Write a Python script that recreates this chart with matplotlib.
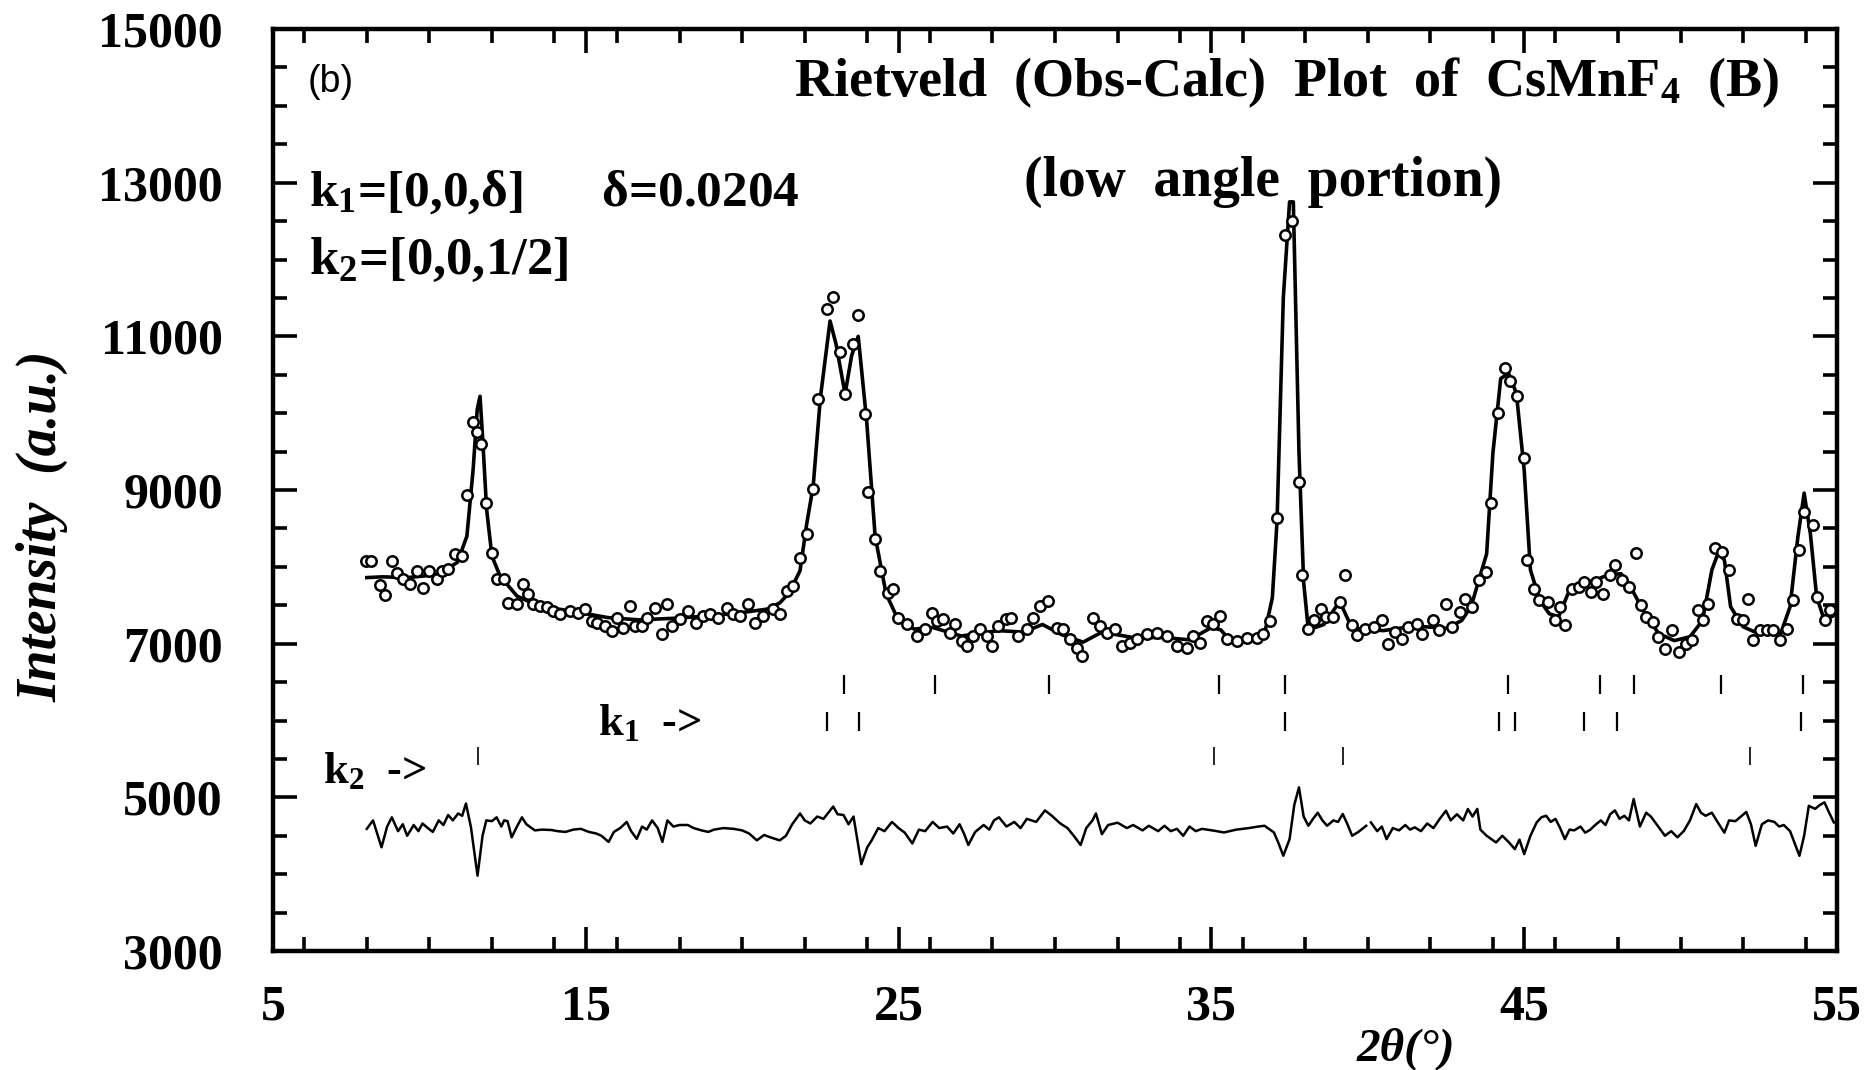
import matplotlib
matplotlib.use("Agg")
import matplotlib.pyplot as plt
import numpy as np
from matplotlib.ticker import MultipleLocator, FixedLocator

plt.rcParams['mathtext.fontset'] = 'custom'
plt.rcParams['mathtext.rm'] = 'Liberation Serif:bold'
plt.rcParams['mathtext.it'] = 'Liberation Serif:italic:bold'
plt.rcParams['mathtext.bf'] = 'Liberation Serif:bold'

# ---------------- data ----------------
obs_2theta = [7.98, 8.12, 8.42, 8.58, 8.79, 8.95, 9.17, 9.38, 9.59, 9.81, 10.0, 10.23, 10.39, 10.61, 10.82,
              11.03, 11.19, 11.38, 11.51, 11.64, 11.81, 11.99, 12.15, 12.39, 12.52, 12.79, 12.98, 13.16,
              13.32, 13.54, 13.75, 13.96, 14.18, 14.5, 14.76, 14.97, 15.19, 15.35, 15.61, 15.83, 15.99,
              16.2, 16.41, 16.57, 16.79, 16.95, 17.21, 17.43, 17.59, 17.75, 18.01, 18.28, 18.54, 18.76,
              18.97, 19.24, 19.5, 19.72, 19.93, 20.2, 20.41, 20.68, 21.0, 21.21, 21.42, 21.64, 21.85,
              22.06, 22.27, 22.43, 22.70, 22.91, 23.13, 23.29, 23.55, 23.71, 23.93, 24.03, 24.25, 24.41,
              24.67, 24.83, 24.99, 25.26, 25.58, 25.84, 26.06, 26.22, 26.43, 26.64, 26.8, 27.02, 27.18,
              27.39, 27.6, 27.82, 27.98, 28.19, 28.45, 28.61, 28.83, 29.09, 29.31, 29.52, 29.79, 30.05,
              30.27, 30.48, 30.69, 30.85, 31.23, 31.44, 31.65, 31.92, 32.13, 32.4, 32.61, 32.93, 33.25,
              33.57, 33.89, 34.21, 34.42, 34.64, 34.85, 35.06, 35.27, 35.49, 35.81, 36.13, 36.45, 36.66,
              36.87, 37.09, 37.35, 37.57, 37.8, 37.9, 38.1, 38.27, 38.49, 38.66, 38.88, 39.1, 39.26,
              39.48, 39.65, 39.92, 40.2, 40.47, 40.64, 40.86, 41.08, 41.3, 41.58, 41.74, 42.07, 42.29,
              42.51, 42.68, 42.95, 43.12, 43.34, 43.56, 43.78, 43.94, 44.16, 44.38, 44.55, 44.77, 44.99,
              45.1, 45.32, 45.48, 45.76, 45.98, 46.14, 46.31, 46.53, 46.75, 46.92, 47.14, 47.3, 47.52,
              47.74, 47.91, 48.13, 48.35, 48.57, 48.73, 48.9, 49.12, 49.28, 49.5, 49.72, 49.94, 50.16,
              50.38, 50.55, 50.71, 50.88, 51.1, 51.32, 51.54, 51.81, 51.98, 52.14, 52.31, 52.53, 52.75,
              52.97, 53.19, 53.41, 53.58, 53.8, 53.96, 54.24, 54.35, 54.62, 54.79]
obs_intensity = [8070, 8070, 7759, 7629, 8077, 7924, 7837, 7772, 7946, 7729, 7946, 7837, 7946, 7968, 8163,
                 8142, 8933, 9880, 9750, 9598, 8829, 8177, 7846, 7837, 7533, 7512, 7772, 7642,
                 7512, 7490, 7481, 7424, 7381, 7424, 7403, 7446, 7294, 7272, 7229, 7164, 7337,
                 7207, 7490, 7229, 7229, 7337, 7468, 7120, 7512, 7229, 7316, 7424, 7272, 7359,
                 7381, 7337, 7468, 7381, 7359, 7512, 7272, 7359, 7446, 7381, 7685, 7750, 8120,
                 8425, 9012, 10185, 11359, 11511, 10794, 10250, 10903, 11281, 9990, 8968, 8359, 7947,
                 7664, 7707, 7338, 7251, 7099, 7186, 7403, 7295, 7316, 7142, 7251, 7034, 6968,
                 7099, 7186, 7099, 6968, 7229, 7316, 7338, 7099, 7186, 7338, 7490, 7555, 7208,
                 7186, 7055, 6947, 6838, 7338, 7229, 7142, 7186, 6968, 7012, 7055, 7121, 7142,
                 7099, 6968, 6947, 7099, 7012, 7295, 7250, 7360, 7055, 7034, 7077, 7077, 7121,
                 7295, 8642, 12320, 12500, 9100, 7890, 7195, 7304, 7457, 7348, 7348, 7543, 7891,
                 7239, 7109, 7195, 7217, 7304, 7000, 7152, 7065, 7217, 7260, 7130, 7304, 7174,
                 7522, 7217, 7413, 7587, 7478, 7826, 7935, 8826, 10000, 10587, 10413, 10217, 9413,
                 8087, 7717, 7565, 7543, 7304, 7478, 7239, 7717, 7739, 7804, 7674, 7804, 7652,
                 7891, 8022, 7826, 7739, 8174, 7500, 7348, 7283, 7087, 6935, 7174, 6891, 7000,
                 7043, 7435, 7304, 7522, 8239, 8196, 7957, 7326, 7304, 7587, 7043, 7174, 7174,
                 7174, 7043, 7196, 7565, 8217, 8717, 8543, 7609, 7304, 7435]

calc_2theta = [8.0, 8.5, 9.3, 10.3, 10.9, 11.2, 11.4, 11.53, 11.62, 11.70, 11.83, 12.0, 12.26, 12.8,
               13.5, 14.6, 15.7, 16.7, 17.8, 18.9, 19.9, 20.8, 21.2, 21.5, 21.85, 22.06, 22.27, 22.5,
               22.81, 23.0, 23.29, 23.5, 23.71, 23.98, 24.25, 24.6, 25.0, 25.5, 26.1, 27.0, 28.2, 29.0,
               29.6, 30.2, 30.9, 31.5, 32.5, 33.5, 34.3, 35.0, 35.3, 35.6, 36.0, 36.7, 36.95, 37.1,
               37.3, 37.5, 37.62, 37.8, 37.95, 38.1, 38.6, 39.1, 39.5, 40.5, 41.5, 42.5, 43.0, 43.3,
               43.8, 44.0, 44.25, 44.5, 44.75, 45.0, 45.2, 45.5, 45.8, 46.1, 46.4, 46.8, 47.3, 47.7,
               48.1, 48.4, 48.8, 49.3, 49.8, 50.3, 50.7, 51.0, 51.2, 51.4, 51.6, 52.0, 52.5, 53.2,
               53.5, 53.75, 53.95, 54.15, 54.35, 54.6, 55.0]
calc_intensity = [7860, 7870, 7860, 7900, 8060, 8400, 9270, 10050, 10220, 9700, 8750, 8140, 7880, 7620,
                  7490, 7420, 7340, 7310, 7330, 7360, 7400, 7450, 7530, 7660, 7950, 8550, 9050, 10200,
                  11200, 10900, 10250, 10750, 11000, 9900, 8400, 7650, 7300, 7190, 7210, 7100, 7170, 7150,
                  7250, 7120, 7020, 7150, 7080, 7080, 7050, 7210, 7180, 7040, 7060, 7130, 7600, 8600,
                  11500, 12750, 12750, 9500, 7800, 7180, 7250, 7550, 7200, 7170, 7230, 7200, 7300, 7480,
                  8170, 9480, 10450, 10520, 10260, 9260, 7960, 7565, 7390, 7350, 7650, 7780, 7830, 7900,
                  7910, 7740, 7435, 7130, 7040, 7090, 7300, 7960, 8180, 8090, 7480, 7220, 7130, 7130,
                  7480, 8390, 8960, 8430, 7610, 7300, 7390]

diff_2theta = [8.0, 8.2, 8.47, 8.65, 8.80, 9.0, 9.15, 9.29, 9.5, 9.65, 9.78, 9.95, 10.11, 10.3, 10.45,
               10.60, 10.75, 10.92, 11.05, 11.17, 11.33, 11.54, 11.7, 11.82, 12.0, 12.15, 12.3, 12.39,
               12.5, 12.63, 12.8, 12.96, 13.1, 13.37, 13.6, 13.9, 14.1, 14.35, 14.6, 14.84, 15.1, 15.33,
               15.5, 15.73, 15.9, 16.1, 16.31, 16.45, 16.63, 16.8, 16.95, 17.12, 17.3, 17.45, 17.61,
               17.8, 18.0, 18.26, 18.45, 18.7, 18.92, 19.1, 19.4, 19.73, 20.0, 20.22, 20.47, 20.7, 20.9,
               21.20, 21.4, 21.6, 21.85, 22.0, 22.18, 22.4, 22.6, 22.91, 23.05, 23.24, 23.4, 23.56,
               23.81, 24.0, 24.14, 24.35, 24.55, 24.79, 25.0, 25.2, 25.44, 25.65, 25.85, 26.09, 26.3,
               26.55, 26.75, 26.95, 27.1, 27.23, 27.45, 27.72, 27.9, 28.05, 28.21, 28.45, 28.70, 28.9,
               29.1, 29.4, 29.68, 29.9, 30.17, 30.4, 30.6, 30.82, 31.0, 31.2, 31.31, 31.5, 31.7, 32.0,
               32.3, 32.5, 32.8, 33.0, 33.3, 33.5, 33.7, 33.9, 34.1, 34.3, 34.5, 34.7, 35.1, 35.4, 35.8,
               36.2, 36.5, 36.7, 37.0, 37.15, 37.3, 37.5, 37.65, 37.8, 37.95, 38.1, 38.25, 38.4, 38.55,
               38.7, 38.9, 39.05, 39.2, 39.35, 39.5, 39.7, 39.95, 40.05, 40.1, 40.3, 40.45, 40.6, 40.8,
               41.0, 41.2, 41.35, 41.5, 41.7, 41.9, 42.1, 42.3, 42.5, 42.65, 42.85, 43.05, 43.2, 43.35,
               43.5, 43.6, 43.8, 44.1, 44.3, 44.5, 44.7, 44.85, 45.0, 45.2, 45.4, 45.55, 45.7, 45.85,
               46.0, 46.15, 46.3, 46.45, 46.6, 46.8, 46.95, 47.1, 47.3, 47.45, 47.6, 47.75, 47.9, 48.05,
               48.2, 48.35, 48.5, 48.6, 48.7, 48.9, 49.05, 49.25, 49.5, 49.7, 49.9, 50.1, 50.3, 50.5,
               50.65, 50.8, 51.0, 51.15, 51.4, 51.55, 51.75, 51.9, 52.1, 52.25, 52.4, 52.6, 52.8, 53.0,
               53.15, 53.3, 53.5, 53.65, 53.8, 53.95, 54.1, 54.3, 54.45, 54.6, 54.75, 54.9]
diff_intensity = [4590, 4700, 4350, 4620, 4740, 4560, 4650, 4500, 4640, 4560, 4660, 4600, 4550, 4700, 4640,
                  4770, 4700, 4790, 4760, 4920, 4610, 3980, 4500, 4700, 4690, 4740, 4620, 4700,
                  4690, 4480, 4620, 4740, 4650, 4570, 4580, 4575, 4560, 4550, 4580, 4590, 4550, 4530,
                  4500, 4420, 4550, 4600, 4680, 4560, 4460, 4620, 4580, 4700, 4600, 4420, 4700,
                  4620, 4640, 4640, 4600, 4570, 4550, 4580, 4600, 4590, 4570, 4530, 4440, 4510, 4480,
                  4440, 4500, 4650, 4790, 4700, 4660, 4750, 4720, 4880, 4780, 4770, 4650, 4750,
                  4130, 4350, 4440, 4600, 4560, 4680, 4600, 4540, 4400, 4580, 4560, 4680, 4600,
                  4620, 4530, 4650, 4520, 4380, 4550, 4640, 4580, 4700, 4740, 4620, 4680, 4600,
                  4720, 4680, 4830, 4760, 4660, 4600, 4500, 4380, 4600, 4700, 4790, 4520, 4640, 4670,
                  4600, 4640, 4570, 4630, 4560, 4630, 4560, 4590, 4500, 4620, 4560, 4590, 4565, 4543, 4580,
                  4600, 4620, 4630, 4543, 4400, 4240, 4456, 4900, 5130, 4750, 4630, 4720, 4800, 4700,
                  4630, 4700, 4680, 4783, 4650, 4500, 4550, 4630, np.nan, 4674, 4560, 4620, 4456, 4600,
                  4570, 4640, 4580, 4610, 4560, 4660, 4600, 4720, 4826, 4700, 4780, 4700, 4848, 4750,
                  4850, 4580, 4500, 4413, 4500, 4420, 4326, 4450, 4261, 4500, 4674, 4740, 4761, 4680,
                  4720, 4600, 4456, 4580, 4570, 4620, 4540, 4575, 4650, 4700, 4640, 4780, 4830, 4720,
                  4760, 4700, 4978, 4800, 4620, 4800, 4750, 4640, 4500, 4560, 4480, 4560, 4700, 4913,
                  4800, 4760, 4800, 4700, 4540, 4700, 4690, 4740, 4810, 4650, 4369, 4650, 4700, 4680,
                  4620, 4640, 4560, 4400, 4239, 4500, 4890, 4850, 4900, 4935, 4800, 4674]

# reflection tick marks (three rows)
refl_row1 = [23.25, 26.15, 29.8, 35.23, 37.36, 44.48, 47.44, 48.52, 51.3, 53.9]
refl_row2 = [22.7, 23.74, 37.36, 44.19, 44.71, 46.92, 47.96, 53.86]
refl_k2 = [11.54, 35.09, 39.22, 52.22]

x_ticks = [5, 15, 25, 35, 45, 55]
y_ticks = [3000, 5000, 7000, 9000, 11000, 13000, 15000]

# ---------------- figure ----------------
fig = plt.figure(figsize=(18.76, 10.70), dpi=100)
ax = fig.add_axes([0.1455, 0.1112, 0.8337, 0.8617])

ax.plot(calc_2theta, calc_intensity, color='black', lw=2.6, zorder=2)
ax.plot(obs_2theta, obs_intensity, 'o', mfc='white', mec='black', ms=7.5, mew=1.8, zorder=3)
ax.plot(diff_2theta, diff_intensity, color='black', lw=1.8, zorder=2)

ax.vlines(refl_row1, 6350, 6590, color='black', lw=1.6)
ax.vlines(refl_row2, 5860, 6110, color='black', lw=1.6)
ax.vlines(refl_k2, 5420, 5650, color='black', lw=1.2)

ax.set_xlim(5, 55)
ax.set_ylim(3000, 15000)
ax.xaxis.set_major_locator(FixedLocator(x_ticks))
ax.xaxis.set_minor_locator(MultipleLocator(2))
ax.yaxis.set_major_locator(FixedLocator(y_ticks))
ax.yaxis.set_minor_locator(MultipleLocator(500))

for s in ax.spines.values():
    s.set_linewidth(3.2)

ax.tick_params(which='both', direction='in', top=True, right=True, width=2.6)
ax.tick_params(which='major', length=17)
ax.tick_params(which='minor', length=10)
ax.tick_params(axis='y', which='major', pad=36)
ax.tick_params(axis='x', which='major', pad=24)

tick_font = dict(family='Liberation Serif', weight='bold', size=36)
ax.set_xticklabels([str(v) for v in x_ticks], **tick_font)
ax.set_yticklabels([str(v) for v in y_ticks], **tick_font)

serif_b = dict(family='Liberation Serif', weight='bold')

ax.text(0.022, 0.942, '(b)', transform=ax.transAxes, family='Liberation Sans', size=27,
        ha='left', va='center')
ax.text(0.963, 0.942, r'Rietveld  (Obs-Calc)  Plot  of  CsMnF${}_4$  (B)', transform=ax.transAxes,
        size=39, ha='right', va='center', **serif_b)
ax.text(0.633, 0.834, '(low  angle  portion)', transform=ax.transAxes,
        size=40, ha='center', va='center', **serif_b)
ax.text(0.023, 0.822, r'k${}_1$=[0,0,δ]      δ=0.0204', transform=ax.transAxes,
        size=37, ha='left', va='center', **serif_b)
ax.text(0.023, 0.748, r'k${}_2$=[0,0,1/2]', transform=ax.transAxes,
        size=38, ha='left', va='center', **serif_b)

ax.text(15.4, 5960, r'k${}_1$  ->', size=32, ha='left', va='center', **serif_b)
ax.text(6.6, 5330, r'k${}_2$  ->', size=32, ha='left', va='center', **serif_b)

fig.text(0.0224, 0.508, 'Intensity  (a.u.)', rotation=90, family='Liberation Serif',
         weight='bold', style='italic', size=40, ha='center', va='center')
fig.text(0.7495, 0.020, '2θ(°)', family='Liberation Serif', weight='bold', style='italic',
         size=34, ha='center', va='center')

fig.savefig('out.png', dpi=100)
